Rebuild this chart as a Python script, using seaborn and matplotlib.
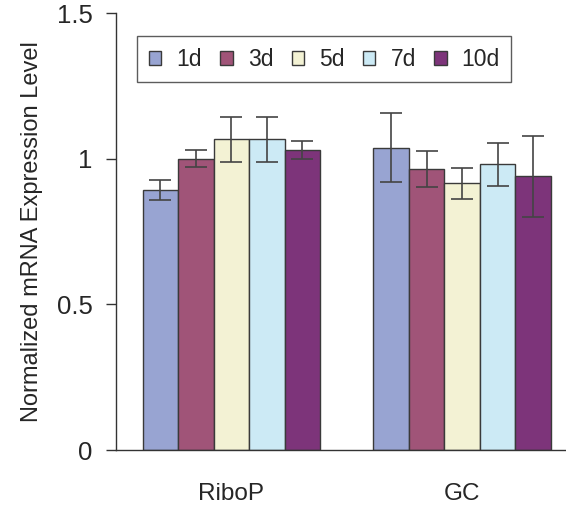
import matplotlib
matplotlib.use('Agg')
import matplotlib.pyplot as plt
import seaborn as sns
import pandas as pd

# values
genes = ['RiboP', 'GC']
days = ['1d', '3d', '5d', '7d', '10d']
ribop_mean = [0.893, 1.001, 1.067, 1.067, 1.030]
ribop_err = [0.035, 0.030, 0.078, 0.078, 0.031]
gc_mean = [1.038, 0.965, 0.916, 0.981, 0.940]
gc_err = [0.119, 0.061, 0.054, 0.075, 0.138]
colors = ['#98a4d2', '#a05478', '#f3f2d4', '#cceaf5', '#7d347a']

df = pd.DataFrame({
    'gene': [genes[0]] * 5 + [genes[1]] * 5,
    'day': days * 2,
    'level': ribop_mean + gc_mean,
    'err': ribop_err + gc_err,
})

sns.set_style('ticks')
plt.rcParams['font.family'] = ['Liberation Sans', 'DejaVu Sans']

fig = plt.figure(figsize=(5.66, 5.08), dpi=100)
ax = fig.add_axes([0.205, 0.114, 0.795, 0.86])

sns.barplot(data=df, x='gene', y='level', hue='day', order=genes,
            hue_order=days, palette=colors, width=0.77, errorbar=None,
            edgecolor='#3a3a3a', linewidth=1.0, saturation=1, ax=ax)

# error bars at the centre of each drawn bar
for day, cont in zip(days, ax.containers):
    sub = df[df['day'] == day].set_index('gene').loc[genes]
    xs = [p.get_x() + p.get_width() / 2 for p in cont.patches]
    ax.errorbar(xs, sub['level'], yerr=sub['err'], fmt='none',
                ecolor='#444444', elinewidth=1.2, capsize=8, capthick=1.2)

ax.set_ylim(0, 1.5)
ax.set_xlim(-0.5, 1.45)
ax.set_yticks([0, 0.5, 1, 1.5])
ax.set_yticklabels(['0', '0.5', '1', '1.5'])
ax.set_xlabel('')
ax.set_ylabel('Normalized mRNA Expression Level', fontsize=17, labelpad=10)
ax.tick_params(axis='y', labelsize=18.5, length=7, width=1, pad=10, color='#333333')
ax.tick_params(axis='x', labelsize=17.5, length=0, pad=24)

for s in ['top', 'right']:
    ax.spines[s].set_visible(False)
for s in ['left', 'bottom']:
    ax.spines[s].set_color('#333333')
    ax.spines[s].set_linewidth(1)

leg = ax.legend(ncol=5, loc='upper center', bbox_to_anchor=(0.463, 0.947),
                fontsize=16.5, frameon=True, fancybox=False, edgecolor='#333333',
                handlelength=0.55, handleheight=0.55, handletextpad=0.65,
                columnspacing=0.8, borderpad=0.5, borderaxespad=0)
leg.get_frame().set_linewidth(1)
for h in leg.legend_handles:
    h.set_edgecolor('#3a3a3a')

fig.savefig('out.png', dpi=100)
